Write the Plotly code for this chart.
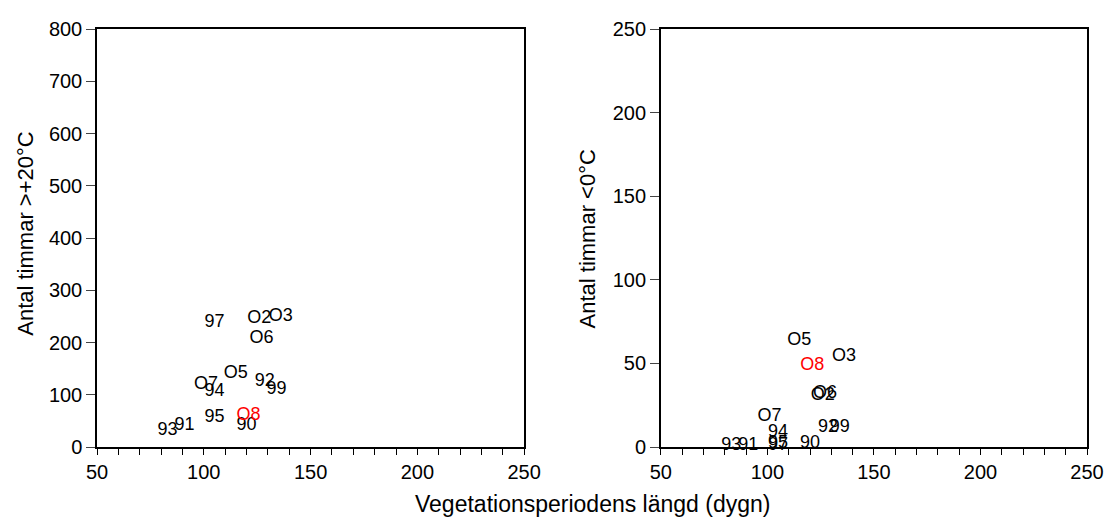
import plotly.graph_objects as go

labels = ["90", "91", "92", "93", "94", "95", "97", "99", "O2", "O3", "O5", "O6", "O7", "O8"]
veg_days = [120, 91, 128.5, 83, 105, 105, 105, 134, 126, 136, 115, 127, 101, 121]
hours_above_20 = [42, 41, 125, 31, 106, 56, 239, 111, 245, 250, 140, 207, 120, 60]
hours_below_0 = [2, 1, 11.5, 1, 8.6, 2, 1, 11.5, 31, 54, 63.5, 32, 18.3, 48.5]
label_colors = ["#000000"] * 13 + ["#FF0000"]

x_ticks = [50, 100, 150, 200, 250]
y1_ticks = [0, 100, 200, 300, 400, 500, 600, 700, 800]
y2_ticks = [0, 50, 100, 150, 200, 250]

FONT = "Liberation Sans, Arial, sans-serif"
OFF = 8  # page body margin

fig = go.Figure()
fig.add_trace(go.Scatter(
    x=veg_days, y=hours_above_20, mode="text", text=labels,
    textposition="middle center",
    textfont=dict(family=FONT, size=18, color=label_colors),
    xaxis="x", yaxis="y", cliponaxis=False, showlegend=False, hoverinfo="skip"))
fig.add_trace(go.Scatter(
    x=veg_days, y=hours_below_0, mode="text", text=labels,
    textposition="middle center",
    textfont=dict(family=FONT, size=18, color=label_colors),
    xaxis="x2", yaxis="y2", cliponaxis=False, showlegend=False, hoverinfo="skip"))

W, H = 1114 - OFF, 525 - OFF
# screen-pixel positions of the plot areas in the reference
left_x0, left_x1 = 97, 525
right_x0, right_x1 = 662, 1089
top_y, bot_y = 18, 447

ml = left_x0 - OFF
mr = W - (right_x1 - OFF)
mt = top_y - OFF
mb = H - (bot_y - OFF)
pw = W - ml - mr
ph = H - mt - mb

def px_x(p):
    return (p - left_x0) / pw

def px_y(p):
    return (bot_y - p) / ph

xcommon = dict(range=[50, 250], tickvals=x_ticks, ticks="outside", ticklen=6,
               tickwidth=1, tickcolor="#000000", showline=True, linecolor="#000000",
               linewidth=1.5, mirror=True, showgrid=False, zeroline=False,
               tickfont=dict(family=FONT, size=20, color="#000000"),
               minor=dict(dtick=10, tick0=50, ticks="outside", ticklen=6,
                          tickcolor="#000000", tickwidth=1, showgrid=False))
ycommon = dict(ticks="outside", ticklen=9, tickwidth=1, tickcolor="#444444",
               showline=True, linecolor="#000000", linewidth=1.5, mirror=True,
               showgrid=False, zeroline=False,
               tickfont=dict(family=FONT, size=20, color="#000000"))

fig.update_layout(
    width=W, height=H,
    margin=dict(l=ml, r=mr, t=mt, b=mb),
    paper_bgcolor="white", plot_bgcolor="white",
    xaxis=dict(domain=[0, px_x(left_x1)], anchor="y", **xcommon),
    xaxis2=dict(domain=[px_x(right_x0), 1], anchor="y2", **xcommon),
    yaxis=dict(domain=[0, 1], anchor="x", range=[0, 800], tickvals=y1_ticks, **ycommon),
    yaxis2=dict(domain=[0, 1], anchor="x2", range=[0, 250], tickvals=y2_ticks, **ycommon),
    annotations=[
        dict(text="Antal timmar >+20°C", xref="paper", yref="paper",
             x=px_x(25), y=px_y(228), textangle=-90, showarrow=False,
             xanchor="center", yanchor="middle",
             font=dict(family=FONT, size=22, color="#000000")),
        dict(text="Antal timmar <0°C", xref="paper", yref="paper",
             x=px_x(588), y=px_y(234), textangle=-90, showarrow=False,
             xanchor="center", yanchor="middle",
             font=dict(family=FONT, size=22, color="#000000")),
        dict(text="Vegetationsperiodens längd (dygn)", xref="paper", yref="paper",
             x=px_x(594), y=px_y(505), showarrow=False,
             xanchor="center", yanchor="middle",
             font=dict(family=FONT, size=23, color="#000000")),
    ],
)

fig.write_html("out.html")
